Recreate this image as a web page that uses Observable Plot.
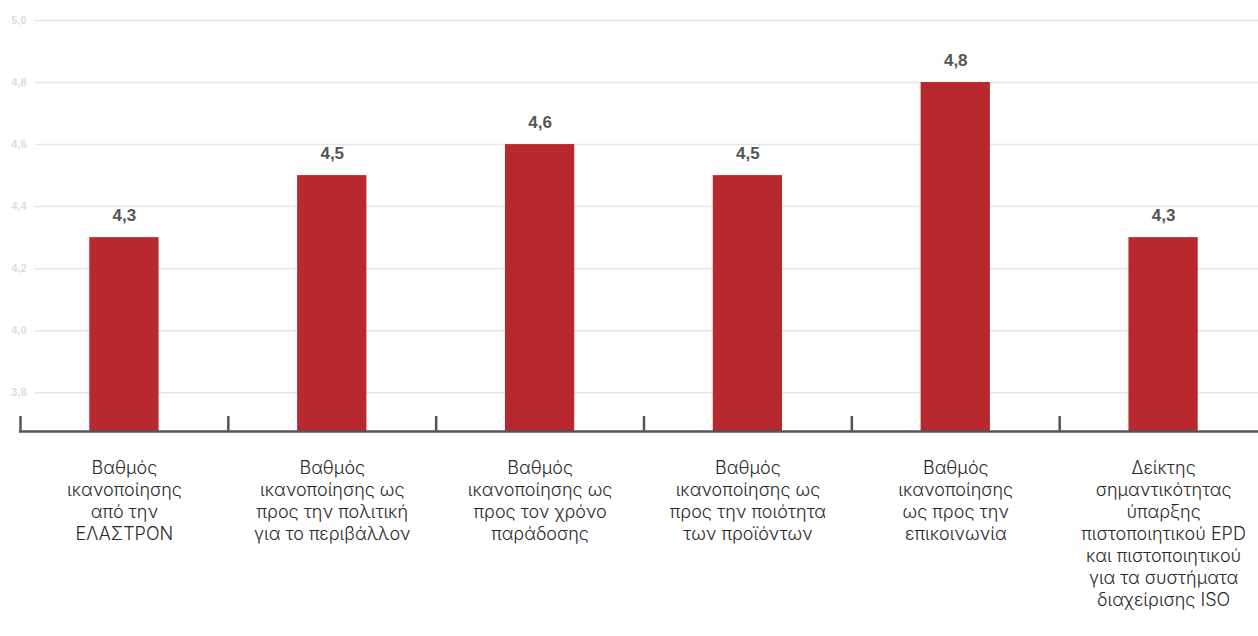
<!DOCTYPE html>
<html><head><meta charset="utf-8">
<script src="https://cdn.jsdelivr.net/npm/d3@7"></script>
<script src="https://cdn.jsdelivr.net/npm/@observablehq/plot@0.6"></script>
<style>
html,body{margin:0;padding:0;background:#fff;overflow:hidden;}
</style>
</head><body><div id="chart"></div>
<script>
const categories = [
  "Βαθμός\nικανοποίησης\nαπό την\nΕΛΑΣΤΡΟΝ",
  "Βαθμός\nικανοποίησης ως\nπρος την πολιτική\nγια το περιβάλλον",
  "Βαθμός\nικανοποίησης ως\nπρος τον χρόνο\nπαράδοσης",
  "Βαθμός\nικανοποίησης ως\nπρος την ποιότητα\nτων προϊόντων",
  "Βαθμός\nικανοποίησης\nως προς την\nεπικοινωνία",
  "Δείκτης\nσημαντικότητας\nύπαρξης\nπιστοποιητικού EPD\nκαι πιστοποιητικού\nγια τα συστήματα\nδιαχείρισης ISO"
];
const values = [4.3, 4.5, 4.6, 4.5, 4.8, 4.3];
const yTicks = [3.8, 4.0, 4.2, 4.4, 4.6, 4.8, 5.0];
const yMin = 3.675, yMax = 5.0;

const data = categories.map((c, i) => ({cat: c, value: values[i]}));
const fmt = d => d.toFixed(1).replace(".", ",");

const W = 1258, H = 636, mL = 20, mR = -9, mT = 20, mB = 205;
const band = (W - mR - mL) / categories.length;

const chart = Plot.plot({
  width: W, height: H,
  marginLeft: mL, marginRight: mR, marginTop: mT, marginBottom: mB,
  style: {fontFamily: "Inter, 'Noto Sans', sans-serif", background: "#fff", overflow: "hidden"},
  x: {domain: categories, paddingInner: 2/3, paddingOuter: 1/3, round: false, axis: null},
  y: {domain: [yMin, yMax], axis: null},
  marks: [
    Plot.ruleY(yTicks, {stroke: "#e6e6e6", strokeWidth: 1.5, insetLeft: 15}),
    Plot.text(yTicks, {y: d => d, text: fmt, frameAnchor: "left", textAnchor: "end", dx: 6, fill: "#dcdcdc", fontSize: 11, fontWeight: "bold", fontFamily: "'Liberation Sans', Arial, sans-serif"}),
    Plot.barY(data, {x: "cat", y1: yMin, y2: "value", fill: "#b8282f"}),
    Plot.ruleY([yMin], {stroke: "#555", strokeWidth: 2.5, insetLeft: -1}),
    Plot.ruleX(categories, {x: d => d, y1: yMin, y2: yMin + 15 * (yMax - yMin) / (H - mT - mB), dx: -band / 2, stroke: "#555", strokeWidth: 2.5}),
    Plot.text(data, {x: "cat", y: "value", text: d => fmt(d.value), dy: -22, fill: "#555", fontSize: 17, fontWeight: "bold", fontFamily: "'Liberation Sans', Arial, sans-serif"}),
    Plot.axisX({tickSize: 0, tickPadding: 27, fontSize: 18, lineHeight: 22 / 18, fill: "#2a2a2a", fontWeight: 300, tickFormat: d => d, label: null})
  ]
});
document.getElementById("chart").appendChild(chart);
</script>
</body></html>
